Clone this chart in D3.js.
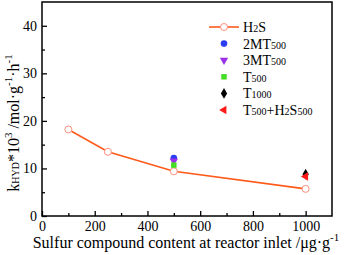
<!DOCTYPE html>
<html>
<head>
<meta charset="utf-8">
<script src="https://cdn.jsdelivr.net/npm/d3@7"></script>
<style>
  body { margin: 0; background: #fff; }
  svg { display: block; font-family: "Liberation Serif", "DejaVu Serif", serif; }
  svg text { font-family: "Liberation Serif", "DejaVu Serif", serif; }
</style>
</head>
<body>
<svg id="chart" width="354" height="255"></svg>
<script>
// data
const h2sX = [100, 250, 500, 1000];
const h2sY = [18.2, 13.5, 9.4, 5.7];
const extraSeries = [
  { name: "2MT", sub: "500", x: 500, y: 12.2, color: "#2a3df0", shape: "circle" },
  { name: "3MT", sub: "500", x: 500, y: 11.6, color: "#9b30e8", shape: "tridown" },
  { name: "T", sub: "500", x: 500, y: 10.7, color: "#44dd22", shape: "square" },
  { name: "T", sub: "1000", x: 1000, y: 8.8, color: "#000000", shape: "diamond" },
  { name: "T", sub: "500", tail: "+H", tail2: "2", tail3: "S", tail4: "500", x: 1000, y: 8.3, color: "#ff1a1a", shape: "trileft" }
];
const xTicks = [0, 200, 400, 600, 800, 1000];
const yTicks = [0, 10, 20, 30, 40];

const svg = d3.select("#chart"),
    margin = {top: 2, right: 22, bottom: 39, left: 42},
    width = 354 - margin.left - margin.right,
    height = 255 - margin.top - margin.bottom;

const x = d3.scaleLinear().domain([0, 1100]).range([0, width]);
const y = d3.scaleLinear().domain([0, 45]).range([height, 0]);

const g = svg.append("g")
    .attr("transform", "translate(" + margin.left + "," + margin.top + ")");

// minor ticks
g.append("g")
    .attr("transform", "translate(0," + height + ")")
    .call(d3.axisBottom(x).tickValues(d3.range(100, 1100, 200)).tickSize(-3).tickFormat(""))
    .call(a => a.select(".domain").remove());
g.append("g")
    .call(d3.axisLeft(y).tickValues(d3.range(5, 45, 10)).tickSize(-3).tickFormat(""))
    .call(a => a.select(".domain").remove());

// major ticks
const xAxis = g.append("g")
    .attr("transform", "translate(0," + height + ")")
    .call(d3.axisBottom(x).tickValues(xTicks).tickFormat(d3.format("d")).tickSize(-5).tickPadding(5));
xAxis.select(".domain").remove();

const yAxis = g.append("g")
    .call(d3.axisLeft(y).tickValues(yTicks).tickFormat(d3.format("d")).tickSize(-5).tickPadding(5));
yAxis.select(".domain").remove();

g.selectAll("g").attr("font-family", null).attr("font-size", null);
g.selectAll(".tick text")
    .style("font-size", "14px")
    .attr("fill", "#000");
g.selectAll(".tick line").attr("stroke", "#000").attr("stroke-width", 1.3);

// frame
g.append("rect")
    .attr("width", width)
    .attr("height", height)
    .attr("fill", "none")
    .attr("stroke", "#000")
    .attr("stroke-width", 1.5);

// H2S line
const h2s = h2sX.map((d, i) => ({x: d, y: h2sY[i]}));
const orange = "#ff5a1a";
g.append("path")
    .datum(h2s)
    .attr("fill", "none")
    .attr("stroke", orange)
    .attr("stroke-width", 1.6)
    .attr("d", d3.line().x(d => x(d.x)).y(d => y(d.y)));
g.selectAll(".h2s")
    .data(h2s)
    .enter().append("circle")
    .attr("cx", d => x(d.x))
    .attr("cy", d => y(d.y))
    .attr("r", 3.5)
    .attr("fill", "#fff")
    .attr("stroke", "#f9907a")
    .attr("stroke-width", 1);

function symbol(sel, shape, color) {
    const types = {
        circle: d3.symbolCircle, square: d3.symbolSquare, diamond: d3.symbolDiamond,
        tridown: d3.symbolTriangle, trileft: d3.symbolTriangle
    };
    const size = { circle: 34, square: 30, diamond: 34, tridown: 30, trileft: 30 };
    const rot = { tridown: 180, trileft: -90 };
    sel.append("path")
        .attr("d", d3.symbol().type(types[shape]).size(size[shape]))
        .attr("transform", "rotate(" + (rot[shape] || 0) + ")")
        .attr("fill", color);
}

extraSeries.forEach(s => {
    const p = g.append("g").attr("transform", "translate(" + x(s.x) + "," + y(s.y) + ")");
    symbol(p, s.shape, s.color);
});

// legend
const legend = svg.append("g").attr("font-size", 14);
const lx = 209, ly0 = 27, step = 16.6;
legend.append("line")
    .attr("x1", lx).attr("x2", lx + 30).attr("y1", ly0).attr("y2", ly0)
    .attr("stroke", orange).attr("stroke-width", 1.6);
legend.append("circle")
    .attr("cx", lx + 15).attr("cy", ly0).attr("r", 3.5)
    .attr("fill", "#fff").attr("stroke", "#f9907a");
const t0 = legend.append("text").attr("x", lx + 34).attr("y", ly0 + 5);
t0.append("tspan").text("H");
t0.append("tspan").attr("font-size", 10).text("2");
t0.append("tspan").text("S");

extraSeries.forEach((s, i) => {
    const yy = ly0 + step * (i + 1);
    const p = legend.append("g").attr("transform", "translate(" + (lx + 15) + "," + yy + ")");
    symbol(p, s.shape, s.color);
    const t = legend.append("text").attr("x", lx + 34).attr("y", yy + 5);
    t.append("tspan").text(s.name);
    t.append("tspan").attr("font-size", 10).text(s.sub);
    if (s.tail) {
        t.append("tspan").text(s.tail);
        t.append("tspan").attr("font-size", 10).text(s.tail2);
        t.append("tspan").text(s.tail3);
        t.append("tspan").attr("font-size", 10).text(s.tail4);
    }
});

// axis titles
const xt = svg.append("text")
    .attr("x", 186)
    .attr("y", 248)
    .attr("text-anchor", "middle")
    .attr("font-size", 16)
    .text("Sulfur compound content at reactor inlet /\u03bcg\u00b7g");
xt.append("tspan").attr("font-size", 11).attr("dy", -7).text("-1");

const yt = svg.append("text")
    .attr("transform", "translate(19," + 123 + ") rotate(-90)")
    .attr("text-anchor", "middle")
    .attr("font-size", 16);
yt.append("tspan").text("k");
yt.append("tspan").attr("font-size", 10).text("HYD");
yt.append("tspan").text("*10");
yt.append("tspan").attr("font-size", 11).attr("dy", -7).text("3");
yt.append("tspan").attr("dy", 7).text(" /mol\u00b7g");
yt.append("tspan").attr("font-size", 11).attr("dy", -7).text("-1");
yt.append("tspan").attr("dy", 7).text("\u00b7h");
yt.append("tspan").attr("font-size", 11).attr("dy", -7).text("-1");
</script>
</body>
</html>
